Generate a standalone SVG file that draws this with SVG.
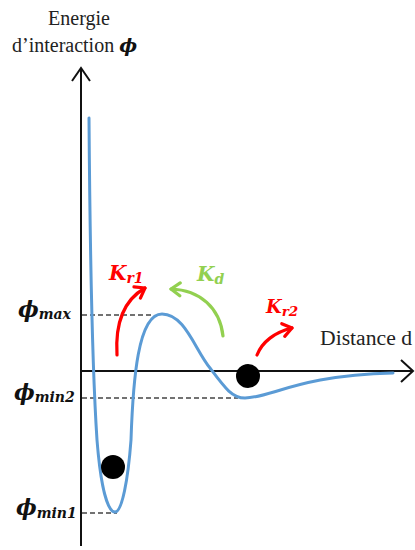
<svg xmlns="http://www.w3.org/2000/svg" width="415" height="550" viewBox="0 0 415 550">
<style>
.lbl{font-family:"Liberation Serif","Times New Roman",serif;font-size:20px;fill:#222}
.phi{font-family:"DejaVu Serif",serif;font-weight:bold;font-style:italic;fill:#111}
.k{font-family:"DejaVu Serif",serif;font-weight:bold;font-style:italic}
.axis{stroke:#111;stroke-width:2;fill:none}
.dash{stroke:#444;stroke-width:1.3;stroke-dasharray:5 3;fill:none}
.curve{stroke:#5b9bd5;stroke-width:3;fill:none;stroke-linecap:round}
.arr{fill:none;stroke-width:3.2;stroke-linecap:round}
</style>
<defs>
<marker id="mr" markerUnits="userSpaceOnUse" viewBox="-12 -9 14 18" markerWidth="14" markerHeight="18" refX="0" refY="0" orient="auto"><path d="M-9 -6.5 L0 0 L-9 6.5" fill="none" stroke="#ff0000" stroke-width="3.2" stroke-linecap="round" stroke-linejoin="round"/></marker>
<marker id="mg" markerUnits="userSpaceOnUse" viewBox="-12 -9 14 18" markerWidth="14" markerHeight="18" refX="0" refY="0" orient="auto"><path d="M-9 -6.5 L0 0 L-9 6.5" fill="none" stroke="#92d050" stroke-width="3.2" stroke-linecap="round" stroke-linejoin="round"/></marker>
</defs>
<g id="axes">
<path class="axis" d="M81 546 V68"/>
<path class="axis" d="M72 81 L81 68 L90 81"/>
<path class="axis" d="M81 371 H413"/>
<path class="axis" d="M401 360 L413 371 L401 382"/>
</g>
<g id="guides">
<path class="dash" d="M82 315 H152"/>
<path class="dash" d="M82 398 H238"/>
<path class="dash" d="M82 513 H117"/>
</g>
<g id="curve">
<path class="curve" d="M89 118 C90 250 93 380 97 440 C101 490 108 512 115 512 C122 512 128 480 131 440 C133 380 138 314 162 314 C185 314 195 350 210 368 C225 388 232 398 245 398 C270 398 300 375 393 373"/>
</g>
<g id="ball1"><circle cx="113" cy="467" r="12" fill="#000"/></g>
<g id="ball2"><circle cx="248" cy="376" r="12" fill="#000"/></g>
<g id="connectors">
<path class="arr" stroke="#ff0000" d="M117 355 C115 322 124 300 145 288" marker-end="url(#mr)"/>
<path class="arr" stroke="#92d050" d="M223 336 C220 308 200 290 171 289" marker-end="url(#mg)"/>
<path class="arr" stroke="#ff0000" d="M257 355 C262 342 275 332 292 328" marker-end="url(#mr)"/>
</g>
<g id="labels">
<text class="lbl" x="79" y="25" text-anchor="middle">Energie</text>
<text class="lbl" x="12" y="52">d’interaction <tspan class="phi" font-size="19">ϕ</tspan></text>
<text class="lbl" x="320" y="345" textLength="92" lengthAdjust="spacingAndGlyphs">Distance d</text>
<text class="phi" x="18" y="317" font-size="22">ϕ<tspan font-size="14" dy="2">max</tspan></text>
<text class="phi" x="14" y="400" font-size="22">ϕ<tspan font-size="14" dy="2">min2</tspan></text>
<text class="phi" x="16" y="515" font-size="22">ϕ<tspan font-size="14" dy="3">min1</tspan></text>
<text class="k" x="109" y="280" font-size="20" fill="#ff0000">K<tspan font-size="14" dy="3">r1</tspan></text>
<text class="k" x="197" y="281" font-size="20" fill="#92d050">K<tspan font-size="14" dy="3">d</tspan></text>
<text class="k" x="266" y="313" font-size="18" fill="#ff0000">K<tspan font-size="13.5" dy="3">r2</tspan></text>
</g>
</svg>
